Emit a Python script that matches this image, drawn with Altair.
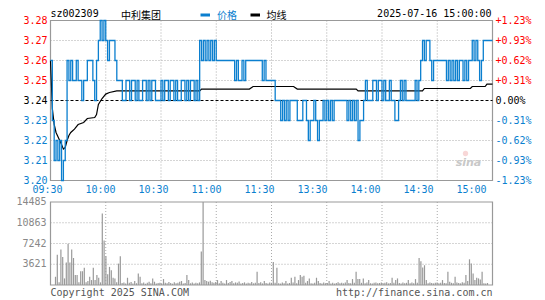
import altair as alt
import pandas as pd

# ---------------- data ----------------
minutes = list(range(241))

price = [
    3.26, 3.23, 3.21, 3.22, 3.21, 3.22, 3.20, 3.21, 3.22, 3.26,
    3.25, 3.26, 3.25, 3.25, 3.26, 3.25, 3.25, 3.24, 3.25, 3.25,
    3.26, 3.26, 3.26, 3.25, 3.24, 3.26, 3.27, 3.28, 3.27, 3.28,
    3.27, 3.26, 3.27, 3.27, 3.27, 3.26, 3.25, 3.25, 3.25, 3.24,
    3.24, 3.25, 3.25, 3.24, 3.25, 3.25, 3.24, 3.25, 3.24, 3.24,
    3.25, 3.25, 3.24, 3.25, 3.24, 3.25, 3.25, 3.24, 3.24, 3.24,
    3.25, 3.24, 3.25, 3.25, 3.24, 3.25, 3.25, 3.24, 3.25, 3.24,
    3.24, 3.25, 3.25, 3.24, 3.25, 3.24, 3.25, 3.25, 3.24, 3.25,
    3.24, 3.27, 3.26, 3.27, 3.26, 3.27, 3.26, 3.27, 3.26, 3.27,
    3.26, 3.26, 3.26, 3.26, 3.26, 3.26, 3.26, 3.26, 3.26, 3.26,
    3.25, 3.26, 3.25, 3.25, 3.26, 3.25, 3.26, 3.26, 3.26, 3.26,
    3.26, 3.26, 3.26, 3.26, 3.26, 3.25, 3.26, 3.25, 3.25, 3.25,
    3.25,
    3.25, 3.24, 3.24, 3.24, 3.23, 3.24, 3.23, 3.24, 3.23, 3.24,
    3.24, 3.24, 3.24, 3.23, 3.23, 3.23, 3.24, 3.24, 3.23, 3.22,
    3.23, 3.23, 3.24, 3.23, 3.22, 3.23, 3.23, 3.24, 3.23, 3.24,
    3.23, 3.24, 3.23, 3.24, 3.24, 3.24, 3.24, 3.24, 3.24, 3.24,
    3.23, 3.24, 3.23, 3.24, 3.23, 3.24, 3.22, 3.23, 3.23, 3.24,
    3.25, 3.24, 3.24, 3.24, 3.25, 3.25, 3.24, 3.25, 3.25, 3.24,
    3.25, 3.24, 3.24, 3.25, 3.24, 3.24, 3.23, 3.23, 3.24, 3.25,
    3.24, 3.25, 3.24, 3.24, 3.24, 3.24, 3.24, 3.25, 3.24, 3.25,
    3.26, 3.27, 3.26, 3.27, 3.27, 3.26, 3.25, 3.26, 3.26, 3.26,
    3.26, 3.26, 3.26, 3.26, 3.25, 3.26, 3.25, 3.26, 3.25, 3.26,
    3.25, 3.26, 3.26, 3.25, 3.26, 3.25, 3.26, 3.26, 3.27, 3.26,
    3.27, 3.26, 3.25, 3.26, 3.27, 3.27, 3.27, 3.27, 3.27, 3.27,
]

volume = [
    1437, 5288, 460, 6208, 4886, 1150, 3909, 7185, 3909, 6208,
    4713, 1724, 1724, 460, 2414, 2414, 2989, 460, 690, 1437,
    862, 2989, 862, 1724, 1265, 460, 12473, 7760, 5000, 1897,
    3161, 2587, 1265, 1150, 460, 3736, 5000, 350, 420, 280,
    1265, 380, 520, 260, 690, 310, 2011, 1437, 300, 450,
    220, 380, 560, 300, 1150, 575, 240, 330, 410, 250,
    1035, 380, 290, 520, 340, 230, 460, 310, 380, 560,
    690, 280, 350, 1724, 862, 300, 420, 260, 380, 310,
    450, 5863, 14485, 862, 690, 575, 750, 460, 380, 520,
    862, 300, 690, 410, 280, 860, 350, 520, 690, 300,
    450, 380, 620, 280, 350, 460, 250, 380, 310, 520,
    290, 400, 2299, 350, 460, 280, 690, 330, 250, 420,
    380, 4024, 400, 2989, 300, 250, 420, 310, 690, 280,
    350, 1265, 420, 1437, 300, 862, 1724, 1437, 1609, 380,
    690, 1150, 300, 250, 410, 1265, 690, 350, 280, 420,
    310, 360, 690, 280, 400, 250, 330, 460, 300, 380,
    290, 420, 862, 350, 300, 1035, 410, 2299, 1035, 1035,
    380, 1150, 300, 420, 862, 310, 250, 380, 450, 290,
    350, 420, 300, 380, 460, 280, 330, 1265, 410, 862,
    1150, 350, 280, 420, 300, 380, 862, 310, 450, 290,
    1035, 380, 4713, 4139, 3046, 3449, 862, 300, 420, 350,
    280, 380, 450, 310, 400, 862, 350, 300, 2299, 575,
    380, 300, 1437, 420, 350, 280, 460, 380, 1724, 690,
    4483, 3736, 2011, 862, 1265, 1150, 977, 2299, 300, 250,
    350,
]

avg_minute = [0, 1, 2, 3, 4, 5, 6, 7, 8, 9,
              10, 11, 13, 15, 18, 20, 24, 25, 26, 28,
              30, 32, 36, 81, 82, 108, 110, 132, 134, 166,
              167, 202, 203, 228, 229, 236, 237, 240]
avg_price = [3.260, 3.236, 3.228, 3.224, 3.222, 3.220, 3.218, 3.2157, 3.2165, 3.2200,
             3.2225, 3.2240, 3.2257, 3.2280, 3.2290, 3.2310, 3.2315, 3.2330, 3.2380, 3.2410,
             3.2432, 3.2440, 3.2448, 3.2448, 3.2457, 3.2457, 3.2470, 3.2470, 3.2457, 3.2457,
             3.2448, 3.2448, 3.2460, 3.2460, 3.2470, 3.2470, 3.2482, 3.2482]

prev_close = 3.24
price_ticks = [3.20, 3.21, 3.22, 3.23, 3.24, 3.25, 3.26, 3.27, 3.28]
price_tick_labels = ["3.20", "3.21", "3.22", "3.23", "3.24", "3.25", "3.26", "3.27", "3.28"]
pct_labels = ["-1.23%", "-0.93%", "-0.62%", "-0.31%", "0.00%", "+0.31%", "+0.62%", "+0.93%", "+1.23%"]
price_grid = [3.21, 3.22, 3.23, 3.25, 3.26, 3.27]
vol_ticks = [3621, 7242, 10863, 14485]
vol_grid = [3621, 7242, 10863]
time_labels = ["09:30", "10:00", "10:30", "11:00", "11:30", "13:30", "14:00", "14:30", "15:00"]
grid_minutes = [30, 60, 90, 120, 150, 180, 210]

# ---------------- style ----------------
BLUE = "#0b7fcf"
RED = "#ff0000"
BLACK = "#000000"
GRID = "#aaaaaa"
FRAME = "#999999"
MONO = "DejaVu Sans Mono"
CJK = "Noto Sans CJK SC"

PW = 442
P_TOP, P_BOT = 0, 160
V_TOP, V_BOT = 181.5, 264.5
P_RANGE = [P_BOT, P_TOP]
V_RANGE = [V_BOT, V_TOP]

tick_colors = [BLUE if p < prev_close else (RED if p > prev_close else BLACK) for p in price_ticks]

df = pd.DataFrame({"m": minutes, "p": price, "v": volume})
df_avg = pd.DataFrame({"m": avg_minute, "a": avg_price})
df_ticks = pd.DataFrame({"p": price_ticks, "lbl": price_tick_labels, "pct": pct_labels, "c": tick_colors})
df_pgrid = pd.DataFrame({"p": price_grid})
df_ref = pd.DataFrame({"p": [prev_close]})
df_vt = pd.DataFrame({"v": vol_ticks, "lbl": [str(v) for v in vol_ticks]})
df_vgrid = pd.DataFrame({"v": vol_grid})
df_time = pd.DataFrame({"k": list(range(len(time_labels))), "t": time_labels})
df_grid = pd.DataFrame({"m": grid_minutes})
one = pd.DataFrame({"k": [0]})

xs = alt.Scale(domain=[0, 240], range=[0, PW])
xs_lbl = alt.Scale(domain=[0.0566, 8.3962], range=[0, PW])
ys_p = alt.Scale(domain=[3.20, 3.28], range=P_RANGE, zero=False, nice=False)
ys_v = alt.Scale(domain=[0, 14485], range=V_RANGE, zero=False, nice=False)

X = lambda f: alt.X(f, scale=xs, axis=None)
YP = lambda f: alt.Y(f, scale=ys_p, axis=None)
YV = lambda f: alt.Y(f, scale=ys_v, axis=None)

layers = []

# grids
layers.append(alt.Chart(df_pgrid).mark_rule(color=GRID, strokeDash=[1, 2], strokeWidth=1).encode(
    y=YP("p:Q"), x=alt.value(0), x2=alt.value(PW)))
layers.append(alt.Chart(df_grid).mark_rule(color=GRID, strokeDash=[1, 2], strokeWidth=1).encode(
    x=X("m:Q"), y=alt.value(P_TOP), y2=alt.value(P_BOT)))
layers.append(alt.Chart(df_vgrid).mark_rule(color=GRID, strokeDash=[1, 2], strokeWidth=1).encode(
    y=YV("v:Q"), x=alt.value(0), x2=alt.value(PW)))
layers.append(alt.Chart(df_grid).mark_rule(color=GRID, strokeDash=[1, 2], strokeWidth=1).encode(
    x=X("m:Q"), y=alt.value(V_TOP), y2=alt.value(V_BOT)))

# volume bars
layers.append(alt.Chart(df).mark_bar(color="#999999", size=1.2).encode(
    x=X("m:Q"), y=YV("v:Q")))

# frames
layers.append(alt.Chart(one).mark_rect(fill=None, stroke=FRAME, strokeWidth=1.2).encode(
    x=alt.value(0), x2=alt.value(PW), y=alt.value(P_TOP), y2=alt.value(P_BOT)))
layers.append(alt.Chart(one).mark_rect(fill=None, stroke=FRAME, strokeWidth=1.2).encode(
    x=alt.value(0), x2=alt.value(PW), y=alt.value(V_TOP), y2=alt.value(V_BOT)))

# previous close dashed line
layers.append(alt.Chart(df_ref).mark_rule(color=BLACK, strokeDash=[3, 2], strokeWidth=1).encode(
    y=YP("p:Q"), x=alt.value(0), x2=alt.value(PW)))

# average line and price line
layers.append(alt.Chart(df_avg).mark_line(color=BLACK, strokeWidth=1.2).encode(
    x=X("m:Q"), y=YP("a:Q")))
layers.append(alt.Chart(df).mark_line(color=BLUE, strokeWidth=1.3, interpolate="step-after").encode(
    x=X("m:Q"), y=YP("p:Q")))

# axis labels
layers.append(alt.Chart(df_ticks).mark_text(font=MONO, fontSize=10, align="right", baseline="middle").encode(
    y=YP("p:Q"), x=alt.value(-3), text="lbl:N", color=alt.Color("c:N", scale=None)))
layers.append(alt.Chart(df_ticks).mark_text(font=MONO, fontSize=10, align="left", baseline="middle").encode(
    y=YP("p:Q"), x=alt.value(445), text="pct:N", color=alt.Color("c:N", scale=None)))
layers.append(alt.Chart(df_vt).mark_text(font=MONO, fontSize=10, align="right", baseline="middle", color="#888888").encode(
    y=YV("v:Q"), x=alt.value(-4), text="lbl:N"))
layers.append(alt.Chart(df_time).mark_text(font=MONO, fontSize=10, align="center", baseline="middle", color=BLUE).encode(
    x=alt.X("k:Q", scale=xs_lbl, axis=None), y=alt.value(169.5), text="t:N"))

# header
HY = -6.5        # centre of the monospace header texts
CY = -1.2        # alphabetic baseline of the CJK header texts
DY = -5.5        # legend swatches
layers.append(alt.Chart(one).mark_text(text="sz002309", font=MONO, fontSize=10, align="left", baseline="middle", color=BLACK).encode(
    x=alt.value(0), y=alt.value(HY)))
layers.append(alt.Chart(one).mark_text(text="中利集团", font=CJK, fontSize=10, align="left", baseline="alphabetic", color=BLACK).encode(
    x=alt.value(70.5), y=alt.value(CY)))
layers.append(alt.Chart(one).mark_rule(color=BLUE, strokeWidth=3).encode(
    x=alt.value(150), x2=alt.value(159.5), y=alt.value(DY)))
layers.append(alt.Chart(one).mark_text(text="价格", font=CJK, fontSize=10, align="left", baseline="alphabetic", color=BLUE).encode(
    x=alt.value(166.5), y=alt.value(CY)))
layers.append(alt.Chart(one).mark_rule(color=BLACK, strokeWidth=3).encode(
    x=alt.value(200), x2=alt.value(209.5), y=alt.value(DY)))
layers.append(alt.Chart(one).mark_text(text="均线", font=CJK, fontSize=10, align="left", baseline="alphabetic", color=BLACK).encode(
    x=alt.value(216), y=alt.value(CY)))
layers.append(alt.Chart(one).mark_text(text="2025-07-16 15:00:00", font=MONO, fontSize=10, align="right", baseline="middle", color=BLACK).encode(
    x=alt.value(441), y=alt.value(HY)))

# watermark
layers.append(alt.Chart(one).mark_point(filled=True, color="#f5c6c6", size=28).encode(
    x=alt.value(415), y=alt.value(133)))
layers.append(alt.Chart(one).mark_text(text="sina", font="DejaVu Sans", fontSize=11, fontStyle="italic", fontWeight="bold",
                                        align="center", baseline="middle", color="#c8c8c8").encode(
    x=alt.value(418), y=alt.value(142.5)))

# footer
layers.append(alt.Chart(one).mark_text(text="Copyright 2025 SINA.COM", font=MONO, fontSize=10, align="left", baseline="middle", color="#555555").encode(
    x=alt.value(0), y=alt.value(272.5)))
layers.append(alt.Chart(one).mark_text(text="http://finance.sina.com.cn", font=MONO, fontSize=10, align="right", baseline="middle", color="#555555").encode(
    x=alt.value(PW), y=alt.value(272.5)))

chart = alt.layer(*layers).properties(
    width=PW, height=279,
    autosize=alt.AutoSizeParams(type="none"),
    padding={"left": 42.5, "top": 12.5, "right": 44.5, "bottom": 0},
).resolve_scale(x="independent", y="independent", color="independent").configure_view(strokeWidth=0)

chart.save("out.html", embed_options={"renderer": "svg", "actions": False})
